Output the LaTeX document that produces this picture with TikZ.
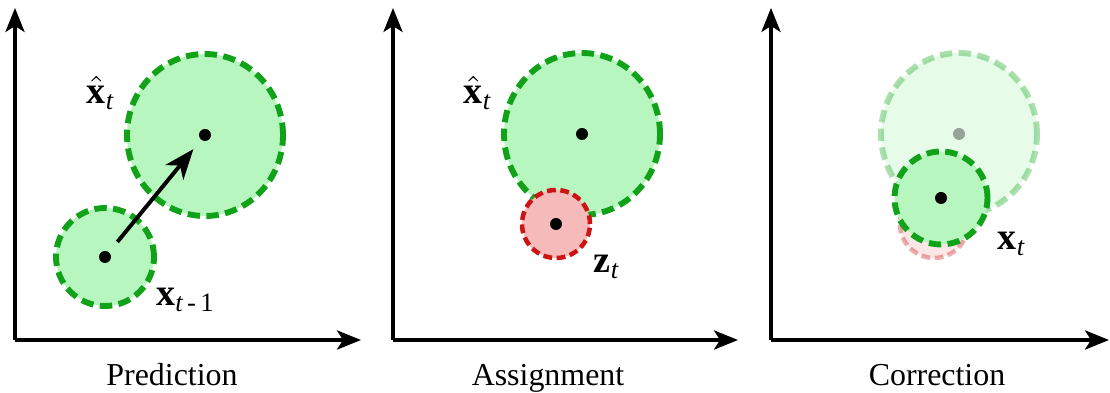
\documentclass[tikz,border=0pt]{standalone}
\usepackage{amsmath, amssymb}
\usepackage{fontspec}
\setmainfont{Liberation Serif}
\usepackage{xcolor}
\usepackage{tikz}
\usetikzlibrary{arrows.meta}
\definecolor{BlobGreen}{HTML}{12A21A}
\definecolor{BlobFill}{HTML}{B7F7BF}
\definecolor{MeasRed}{HTML}{CC1414}
\definecolor{MeasFill}{HTML}{F7BABA}

\tikzset{
    axisarrow/.style={line width=2.2pt, -{Stealth[length=0.6cm, width=0.48cm, inset=0.15cm]}},
    statecirc/.style={draw=BlobGreen, fill=BlobFill, line width=4.2pt, dash pattern=on 0.31cm off 0.16cm},
    meascirc/.style={draw=MeasRed, fill=MeasFill, line width=3.2pt, dash pattern=on 0.22cm off 0.115cm},
    faded/.style={opacity=0.35},
    dot/.style={circle, fill=black, inner sep=0pt, minimum size=0.3cm},
    lbl/.style={scale=2.7},
    paneltitle/.style={font=\fontsize{22.7}{27}\selectfont, anchor=base},
}

\begin{document}
\begin{tikzpicture}[x=0.025cm, y=0.025cm]
    \useasboundingbox (0,0) rectangle (1110,393);

    % Drawing the axes
    \foreach \ox/\ex in {15/361, 393/738, 771/1109} {
        \draw[axisarrow] (\ox,53) -- (\ox,385);
        \draw[axisarrow] (\ox,53) -- (\ex,53);
    }

    % Prediction
    \coordinate (prevc) at (105,136);
    \coordinate (predc) at (205,258);
    \draw[statecirc] (prevc) circle (49);
    \draw[statecirc] (predc) ellipse [x radius=78, y radius=81];
    \node[dot] (prevdot) at (prevc) {};
    \node[dot] (preddot) at (predc) {};
    \draw[line width=2.8pt, -{Stealth[length=0.75cm, width=0.58cm, inset=0.22cm]}, shorten <=0.33cm, shorten >=0.3cm] (prevdot) -- (preddot);
    \node[lbl] (predlbl) at (101,300) {$\hat{\textbf{x}}_{\textit{t}}$};
    \node[lbl] (prevlbl) at (186,93) {$\textbf{x}_{\textit{t}\text{\,-\,1}}$};
    \node[paneltitle] (predtitle) at (172,7) {Prediction};

    % Assignment
    \coordinate (asgpredc) at (582,259);
    \coordinate (measc) at (556,169);
    \draw[statecirc] (asgpredc) ellipse [x radius=78, y radius=81];
    \draw[meascirc] (measc) circle (34);
    \node[dot] (asgpreddot) at (asgpredc) {};
    \node[dot] (measdot) at (measc) {};
    \node[lbl] (asglbl) at (478,300) {$\hat{\textbf{x}}_{\textit{t}}$};
    \node[lbl] (measlbl) at (607,126) {$\textbf{z}_{\textit{t}}$};
    \node[paneltitle] (asgtitle) at (548,7) {Assignment};

    % Correction
    \coordinate (oldpredc) at (959,259);
    \coordinate (oldmeasc) at (934,169);
    \coordinate (corrc) at (941,195);
    \draw[statecirc, faded] (oldpredc) ellipse [x radius=78, y radius=81];
    \draw[meascirc, faded] (oldmeasc) circle (34);
    \node[dot, faded] (oldpreddot) at (oldpredc) {};
    \draw[statecirc] (corrc) circle (46.5);
    \node[dot] (corrdot) at (corrc) {};
    \node[lbl] (corrlbl) at (1012,149) {$\textbf{x}_{\textit{t}}$};
    \node[paneltitle] (corrtitle) at (937,7) {Correction};
\end{tikzpicture}
\end{document}
